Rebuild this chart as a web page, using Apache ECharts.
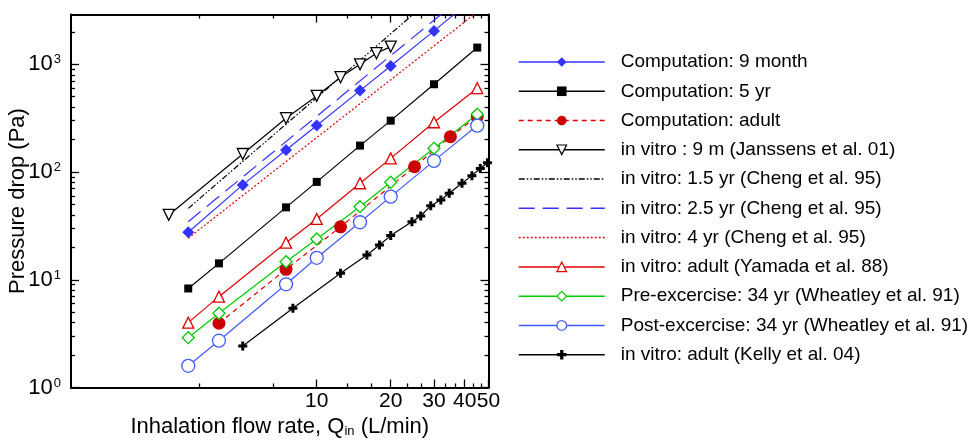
<!DOCTYPE html>
<html><head><meta charset="utf-8">
<script src="https://cdn.jsdelivr.net/npm/echarts@6/dist/echarts.min.js"></script>
<style>html,body{margin:0;padding:0;background:#fff}#c{width:974px;height:441px}</style>
</head><body><div id="c"></div>
<script>
// ---------- data ----------
const seriesNames = [
  'Computation: 9 month',
  'Computation: 5 yr',
  'Computation: adult',
  'in vitro : 9 m (Janssens et al. 01)',
  'in vitro: 1.5 yr (Cheng et al. 95)',
  'in vitro: 2.5 yr (Cheng et al. 95)',
  'in vitro: 4 yr (Cheng et al. 95)',
  'in vitro: adult (Yamada et al. 88)',
  'Pre-excercise: 34 yr (Wheatley et al. 91)',
  'Post-excercise: 34 yr (Wheatley et al. 91)',
  'in vitro: adult (Kelly et al. 04)'
];
const qComp9m = [3, 5, 7.5, 10, 15, 20, 30, 45];
const pComp9m = [27.6, 76, 160, 270, 570, 966, 2043, 4360];
const qComp5y = [3, 4, 7.5, 10, 15, 20, 30, 45];
const pComp5y = [8.3, 14.2, 47, 81, 176, 300, 653, 1430];
const qCompAdult = [4, 7.5, 12.5, 25, 35, 45];
const pCompAdult = [3.95, 12.5, 31, 112, 213, 327];
const qJanssens = [2.5, 5, 7.5, 10, 12.5, 15, 17.5, 20];
const pJanssens = [40, 147, 316, 509, 759, 1000, 1268, 1460];
const qCheng15 = [3, 10, 20, 25];
const pCheng15 = [46, 490, 1920, 2980];
const qCheng25 = [3, 10, 30, 33];
const pCheng25 = [34.6, 329, 2565, 3060];
const qCheng4 = [3, 10, 30, 45];
const pCheng4 = [24.3, 209, 1481, 3055];
const qYamada = [3, 4, 7.5, 10, 15, 20, 30, 45];
const pYamada = [4.0, 6.97, 22.1, 36.7, 78.7, 134, 290, 600];
const qPre = [3, 4, 7.5, 10, 15, 20, 30, 45];
const pPre = [2.9, 4.89, 14.7, 23.9, 47.7, 80.4, 166, 344];
const qPost = [3, 4, 7.5, 10, 15, 20, 30, 45];
const pPost = [1.59, 2.72, 9.08, 16.0, 34.2, 59.1, 127, 270];
const qKelly = [5, 8, 12.5, 16, 18, 20, 24.4, 26.5, 29.1, 32, 34.6, 39, 42.8, 46.3, 49.5];
const pKelly = [2.43, 5.44, 11.5, 17.0, 21.0, 25.7, 34.6, 39.1, 48.7, 55.1, 63.6, 78.7, 92.6, 108, 122];

const xMajorTicks = [10, 20, 30, 40, 50];
const xMinorTicks = [3.333, 6.667, 13.333, 16.667, 23.333, 26.667, 33.333, 36.667, 43.333, 46.667];
const yMajorTicks = [1, 10, 100, 1000];
const yMinorTicks = [2,3,4,5,6,7,8,9,20,30,40,50,60,70,80,90,200,300,400,500,600,700,800,900,2000];
const xRange = [1, 50];
const yRange = [1, 2900];

// ---------- styling ----------
const FONT = '"Liberation Sans", Arial, Helvetica, sans-serif';
const BLACK = '#000000', BLUE = '#3333ff', BLUE2 = '#3f5aff', RED = '#e00000', REDC = '#cc0000', GREEN = '#00cc00';
const PLUS = 'path://M3,0H6V3H9V6H6V9H3V6H0V3H3Z';
const pair = (qs, ps) => qs.map((q, i) => [q, ps[i]]);

function lineSeries(name, q, p, o) {
  return {
    name, type: 'line', xAxisIndex: 0, yAxisIndex: 0,
    data: pair(q, p), clip: true, animation: false,
    symbol: o.symbol || 'none', symbolSize: o.size || 10, symbolRotate: o.rotate || 0,
    showSymbol: !!o.symbol,
    lineStyle: { color: o.color, width: 1.2, type: o.dash || 'solid' },
    itemStyle: o.open ? { color: '#ffffff', borderColor: o.color, borderWidth: 1.3 }
                      : { color: o.fill || o.color, borderWidth: 0 },
    emphasis: { disabled: true }
  };
}

const series = [
  lineSeries(seriesNames[0], qComp9m, pComp9m, { color: BLUE, symbol: 'diamond', size: 12 }),
  lineSeries(seriesNames[1], qComp5y, pComp5y, { color: BLACK, symbol: 'rect', size: 8 }),
  lineSeries(seriesNames[2], qCompAdult, pCompAdult, { color: RED, fill: REDC, symbol: 'circle', size: 13, dash: [5, 4] }),
  lineSeries(seriesNames[3], qJanssens, pJanssens, { color: BLACK, symbol: 'triangle', rotate: 180, size: 11, open: true }),
  lineSeries(seriesNames[4], qCheng15, pCheng15, { color: BLACK, dash: [6, 2, 1.5, 2, 1.5, 2] }),
  lineSeries(seriesNames[5], qCheng25, pCheng25, { color: BLUE, dash: [16, 8] }),
  lineSeries(seriesNames[6], qCheng4, pCheng4, { color: RED, dash: [2, 2] }),
  lineSeries(seriesNames[7], qYamada, pYamada, { color: RED, symbol: 'triangle', size: 11, open: true }),
  lineSeries(seriesNames[8], qPre, pPre, { color: GREEN, symbol: 'diamond', size: 12, open: true }),
  lineSeries(seriesNames[9], qPost, pPost, { color: BLUE2, symbol: 'circle', size: 13, open: true }),
  lineSeries(seriesNames[10], qKelly, pKelly, { color: BLACK, symbol: PLUS, size: 9 })
];

const frameLine = { show: true, onZero: false, lineStyle: { color: BLACK, width: 2 } };
const noLine = { show: false };
function xAx(pos, ticks, len, line, labels) {
  return {
    type: 'log', logBase: 10, position: pos, min: xRange[0], max: xRange[1],
    axisLine: line, splitLine: { show: false }, minorTick: { show: false }, minorSplitLine: { show: false },
    axisTick: { show: true, inside: true, length: len, customValues: ticks, lineStyle: { color: BLACK, width: 1.3 } },
    axisLabel: labels ? { show: true, customValues: ticks, margin: 3, color: BLACK, fontSize: 21, fontFamily: FONT }
                      : { show: false },
    axisPointer: { show: false }
  };
}
function yAx(pos, ticks, len, line, labels) {
  return {
    type: 'log', logBase: 10, position: pos, min: yRange[0], max: yRange[1],
    axisLine: line, splitLine: { show: false }, minorTick: { show: false }, minorSplitLine: { show: false },
    axisTick: { show: true, inside: true, length: len, customValues: ticks, lineStyle: { color: BLACK, width: 1.3 } },
    axisLabel: labels ? {
      show: true, customValues: ticks, margin: 10, color: BLACK, fontFamily: FONT,
      formatter: v => '{b|10}{e|' + Math.round(Math.log10(v)) + '}',
      rich: {
        b: { fontSize: 22, fontFamily: FONT, color: BLACK },
        e: { fontSize: 13, fontFamily: FONT, color: BLACK, verticalAlign: 'top', padding: [0, 0, 0, 1] }
      }
    } : { show: false },
    axisPointer: { show: false }
  };
}

const xMain = xAx('bottom', xMajorTicks, 8, frameLine, true);
xMain.name = '{a|Inhalation flow rate, Q}{s|in}{a| (L/min)}';
xMain.nameLocation = 'middle';
xMain.nameGap = 25;
xMain.nameTextStyle = {
  color: BLACK, fontFamily: FONT, fontSize: 22,
  rich: {
    a: { fontSize: 22, fontFamily: FONT, color: BLACK },
    s: { fontSize: 13, fontFamily: FONT, color: BLACK, verticalAlign: 'bottom', padding: [8, 0, 0, 0] }
  }
};
const yMain = yAx('left', yMajorTicks, 8, frameLine, true);
yMain.name = 'Pressure drop (Pa)';
yMain.nameLocation = 'middle';
yMain.nameGap = 42;
yMain.nameMoveOverlap = false;
yMain.nameRotate = 90;
yMain.nameTextStyle = { color: BLACK, fontFamily: FONT, fontSize: 22 };

const legendData = seriesNames.map((n, i) => (i >= 4 && i <= 6) ? { name: n, itemStyle: { opacity: 0 } } : { name: n });

const option = {
  animation: false,
  backgroundColor: '#ffffff',
  grid: { left: 71, right: 974 - 488.5, top: 14.5, bottom: 441 - 387.5, containLabel: false, outerBoundsMode: 'none' },
  xAxis: [
    xMain,
    xAx('top', xMajorTicks, 8, frameLine, false),
    xAx('bottom', xMinorTicks, 4, noLine, false),
    xAx('top', xMinorTicks, 4, noLine, false)
  ],
  yAxis: [
    yMain,
    yAx('right', yMajorTicks, 8, frameLine, false),
    yAx('left', yMinorTicks, 4, noLine, false),
    yAx('right', yMinorTicks, 4, noLine, false)
  ],
  legend: {
    orient: 'vertical', left: 518, top: 52, padding: 0,
    itemWidth: 86, itemHeight: 12, itemGap: 9.27,
    selectedMode: false,
    data: legendData,
    textStyle: { color: BLACK, fontFamily: FONT, fontSize: 19, lineHeight: 20, padding: [0, 0, 0, 11] },
    lineStyle: { width: 1.5 },
    itemStyle: { borderWidth: 1.2 }
  },
  tooltip: { show: false },
  series
};

const chart = echarts.init(document.getElementById('c'), null, { renderer: 'canvas' });
chart.setOption(option);
</script>
</body></html>
